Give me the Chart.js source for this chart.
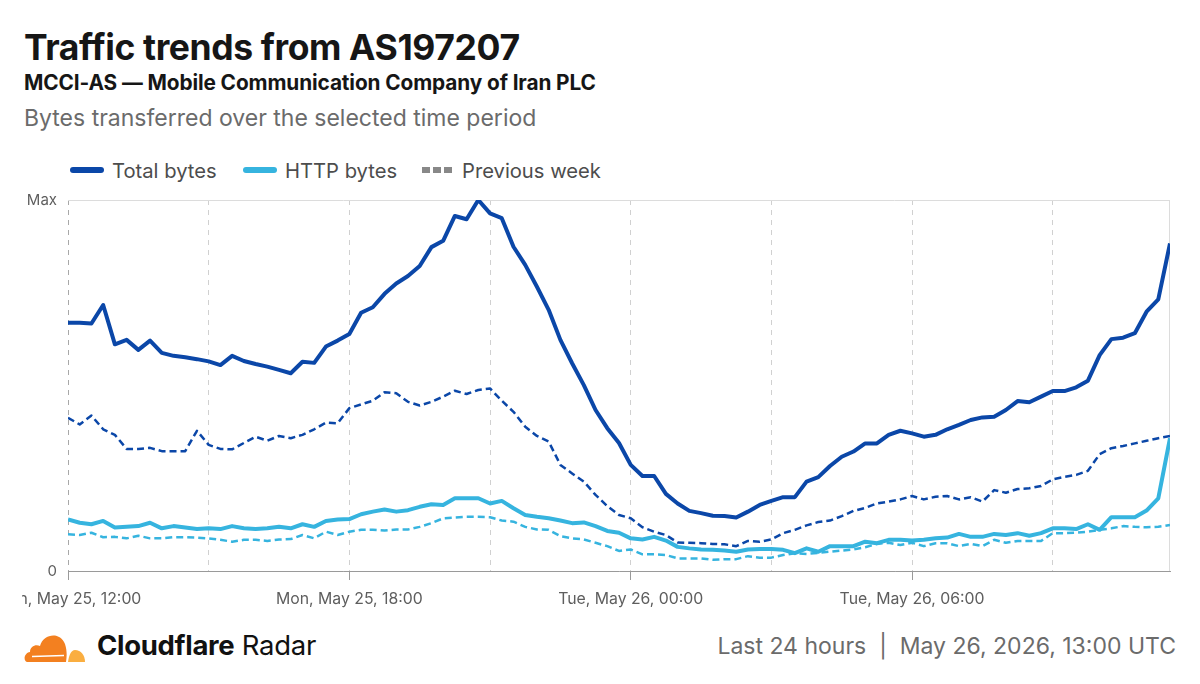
<!DOCTYPE html>
<html>
<head>
<meta charset="utf-8">
<script src="https://cdn.jsdelivr.net/npm/chart.js@4"></script>
<style>
  html, body { margin: 0; padding: 0; background: #fff; }
  body { width: 1200px; height: 684px; position: relative; overflow: hidden; font-family: Inter, "Noto Sans", sans-serif; }
  .title { position: absolute; left: 24px; top: 26px; font-size: 35.5px; font-weight: 700; color: #161616; letter-spacing: -0.4px; }
  .sub { position: absolute; left: 24px; top: 70px; font-size: 20.8px; font-weight: 700; color: #161616; letter-spacing: -0.1px; }
  .desc { position: absolute; left: 24px; top: 104px; font-size: 23px; color: #6b6b6b; }
  .legend { position: absolute; left: 70px; top: 158px; font-size: 20.2px; color: #4d4d4d; }
  .legend span.item { position: absolute; top: 0; white-space: nowrap; }
  .legend i { display: inline-block; width: 34px; height: 6px; border-radius: 3px; vertical-align: middle; margin-right: 8px; position: relative; top: -2px; }
  .legend i.dash { width: 30px; height: 6px; border-radius: 0; margin-right: 10px; background: repeating-linear-gradient(90deg, #888 0 8px, transparent 8px 11px); }
  #wrap { position: absolute; left: 22px; top: 185px; width: 1178px; height: 430px; }
  .brand { position: absolute; left: 24px; top: 628px; height: 36px; }
  .brand svg { position: absolute; left: 0; top: 0; }
  .brand span { position: absolute; left: 73px; top: 0; font-size: 27.5px; color: #111; white-space: nowrap; letter-spacing: -0.3px; }
  .stamp { position: absolute; right: 24px; top: 632px; font-size: 23px; color: #6b6b6b; white-space: nowrap; }
</style>
</head>
<body>
<div class="title">Traffic trends from AS197207</div>
<div class="sub">MCCI-AS — Mobile Communication Company of Iran PLC</div>
<div class="desc">Bytes transferred over the selected time period</div>
<div class="legend">
  <span class="item" style="left:0"><i style="background:#0b47a8"></i>Total bytes</span>
  <span class="item" style="left:173px"><i style="background:#36b4df"></i>HTTP bytes</span>
  <span class="item" style="left:352px"><i class="dash"></i>Previous week</span>
</div>
<div id="wrap"><canvas id="trafficChart"></canvas></div>
<div class="brand">
  <svg width="64" height="36" viewBox="0 0 64 36">
    <path d="M3 34 C-1 33 0 25 6 24 C6 18 12 16 16 18 C19 6 36 3 41 16 C43 22 43 28 42 34 Z" fill="#f38020"/>
    <path d="M44 34 C45 27 47 22 51 22 C57 22 61 27 61 34 Z" fill="#faae40"/>
    <path d="M8 28.5 L40 27.5" stroke="#fff" stroke-width="1.6"/>
  </svg>
  <span><b>Cloudflare</b> Radar</span>
</div>
<div class="stamp">Last 24 hours&nbsp; |&nbsp; May 26, 2026, 13:00 UTC</div>

<script>
document.addEventListener('DOMContentLoaded', () => {
    // time axis: hours since Mon, May 25 12:00 UTC, one point per 15 minutes
    const hours = Array.from({ length: 95 }, (_, i) => i * 0.25);
    const tickLabels = ['Mon, May 25, 12:00', 'Mon, May 25, 18:00', 'Tue, May 26, 00:00', 'Tue, May 26, 06:00'];
    const yLabels = ['0', 'Max'];

    // values as % of max
    const totalBytes = [
        66.9, 66.9, 66.7, 71.7, 61.1, 62.3, 59.6, 62.1, 58.8, 58.0,
        57.6, 57.1, 56.5, 55.5, 58.0, 56.6, 55.8, 55.1, 54.2, 53.3,
        56.4, 56.1, 60.5, 62.1, 63.9, 69.6, 71.1, 74.7, 77.5, 79.5,
        82.2, 87.3, 89.0, 95.7, 94.8, 100, 96.4, 95.1, 87.4, 82.5,
        76.6, 70.4, 62.3, 56.0, 50.1, 43.4, 38.5, 34.5, 28.6, 25.6,
        25.6, 20.8, 18.2, 16.2, 15.6, 14.9, 14.8, 14.4, 16.0, 17.8,
        18.9, 19.9, 19.9, 24.1, 25.3, 28.3, 30.8, 32.2, 34.4, 34.4,
        36.7, 37.8, 37.1, 36.2, 36.7, 38.2, 39.4, 40.7, 41.4, 41.6,
        43.4, 45.8, 45.5, 47.0, 48.5, 48.5, 49.5, 51.3, 58.2, 62.5,
        62.9, 64.1, 69.9, 73.2, 88.3
    ];
    const httpBytes = [
        13.9, 13.0, 12.6, 13.5, 11.7, 11.9, 12.1, 13.0, 11.5, 12.1,
        11.7, 11.3, 11.5, 11.3, 12.1, 11.5, 11.3, 11.5, 11.9, 11.5,
        12.6, 11.9, 13.5, 13.9, 14.0, 15.3, 16.0, 16.6, 16.0, 16.4,
        17.3, 18.0, 17.8, 19.6, 19.6, 19.6, 18.2, 18.9, 16.9, 15.1,
        14.6, 14.2, 13.6, 12.9, 13.1, 12.1, 10.8, 10.3, 8.8, 8.5,
        9.2, 8.2, 6.5, 6.1, 5.8, 5.7, 5.5, 5.2, 5.8, 5.9,
        5.9, 5.7, 4.8, 6.1, 5.2, 6.7, 6.7, 6.7, 7.9, 7.5,
        8.4, 8.4, 8.2, 8.4, 8.8, 9.0, 10.0, 9.2, 9.2, 10.0,
        9.7, 10.2, 9.5, 10.2, 11.5, 11.5, 11.3, 12.6, 11.1, 14.5,
        14.5, 14.5, 16.3, 19.6, 35.8
    ];
    const prevTotalBytes = [
        41.3, 39.5, 41.9, 38.2, 36.7, 32.9, 32.9, 33.2, 32.3, 32.3,
        32.3, 37.8, 34.0, 32.9, 32.8, 34.5, 36.2, 35.1, 36.4, 35.8,
        36.7, 38.2, 40.0, 39.8, 43.9, 44.9, 45.9, 48.2, 47.9, 45.6,
        44.6, 45.6, 47.0, 48.6, 47.7, 48.8, 49.2, 45.9, 42.9, 38.9,
        36.4, 34.9, 28.6, 26.3, 24.1, 20.5, 17.5, 15.1, 14.2, 11.8,
        10.6, 9.7, 7.7, 7.6, 7.5, 7.3, 7.2, 6.7, 8.1, 7.9,
        8.5, 10.2, 11.1, 12.3, 13.2, 13.6, 14.8, 16.2, 17.0, 18.2,
        18.7, 19.3, 20.2, 19.3, 20.0, 20.2, 19.3, 19.9, 18.7, 21.8,
        21.1, 22.1, 22.3, 22.9, 24.7, 25.4, 25.9, 27.0, 31.5, 33.1,
        33.7, 34.4, 35.1, 35.8, 36.4
    ];
    const prevHttpBytes = [
        9.9, 9.7, 10.3, 9.1, 9.2, 8.8, 9.5, 8.8, 8.8, 9.1,
        9.1, 9.0, 8.8, 8.4, 7.9, 8.4, 8.4, 8.1, 8.5, 8.6,
        9.7, 8.8, 10.6, 9.7, 10.6, 11.1, 11.1, 10.9, 11.2, 11.2,
        11.9, 12.9, 14.2, 14.4, 14.6, 14.6, 14.5, 13.6, 13.3, 11.9,
        11.2, 11.1, 9.4, 8.8, 8.5, 7.6, 6.7, 5.4, 5.8, 4.5,
        4.5, 4.3, 3.4, 3.4, 3.4, 3.0, 3.2, 3.2, 4.0, 3.6,
        3.6, 4.3, 4.8, 4.6, 4.9, 5.2, 5.5, 5.8, 6.4, 7.3,
        7.6, 7.0, 7.6, 6.7, 7.5, 7.5, 6.7, 7.3, 6.7, 8.4,
        7.6, 8.1, 8.1, 8.1, 10.2, 10.2, 10.3, 10.6, 11.1, 11.5,
        12.1, 11.9, 11.8, 11.9, 12.4
    ];

    const dark = '#0b47a8';
    const light = '#36b4df';
    const pts = arr => arr.map((v, i) => ({ x: hours[i], y: v }));

    // thin border on the right side of the plot
    const frame = {
        id: 'frame',
        beforeDatasetsDraw(chart) {
            const { ctx, chartArea: a } = chart;
            ctx.save();
            ctx.strokeStyle = '#dcdcdc';
            ctx.lineWidth = 1;
            ctx.beginPath();
            ctx.moveTo(a.right - 0.5, a.top);
            ctx.lineTo(a.right - 0.5, a.bottom);
            ctx.stroke();
            ctx.restore();
        }
    };

    const ctx = document.getElementById('trafficChart').getContext('2d');
    new Chart(ctx, {
        type: 'line',
        data: {
            datasets: [
                { label: 'Total bytes', data: pts(totalBytes), borderColor: dark, borderWidth: 4 },
                { label: 'HTTP bytes', data: pts(httpBytes), borderColor: light, borderWidth: 4 },
                { label: 'Previous week', data: pts(prevTotalBytes), borderColor: dark, borderWidth: 2.5, borderDash: [7, 4] },
                { label: 'Previous week HTTP', data: pts(prevHttpBytes), borderColor: light, borderWidth: 2.5, borderDash: [7, 4] }
            ]
        },
        options: {
            responsive: true,
            maintainAspectRatio: false,
            animation: false,
            layout: { padding: { top: 15, right: 30, left: 0, bottom: 0 } },
            elements: { point: { radius: 0 }, line: { tension: 0, borderJoinStyle: 'round', borderCapStyle: 'butt' } },
            plugins: { legend: { display: false }, tooltip: { enabled: false } },
            scales: {
                x: {
                    type: 'linear',
                    min: 0,
                    max: 23.5,
                    afterBuildTicks: s => { s.ticks = [0, 3, 6, 9, 12, 15, 18, 21].map(v => ({ value: v })); },
                    afterFit: s => { s.height = 44; s.paddingLeft = 0; s.paddingRight = 0; },
                    border: { display: true, color: '#9a9a9a', width: 1, dash: [5, 5] },
                    grid: {
                        color: c => c.index === 0 ? '#a8a8a8' : '#d0d0d0',
                        tickBorderDash: [],
                        tickLength: 9,
                        tickColor: c => (c.tick && c.tick.value % 6 === 0) ? '#9a9a9a' : 'rgba(0,0,0,0)'
                    },
                    ticks: {
                        maxRotation: 0,
                        autoSkip: false,
                        padding: 10,
                        color: '#5e5e5e',
                        font: { family: 'Inter', size: 15.8 },
                        callback: v => v % 6 === 0 ? tickLabels[v / 6] : ''
                    }
                },
                y: {
                    min: 0,
                    max: 100,
                    afterBuildTicks: s => { s.ticks = [0, 100].map(v => ({ value: v })); },
                    afterFit: s => { s.width = 46; s.paddingTop = 0; s.paddingBottom = 0; },
                    border: { display: false },
                    grid: { color: '#dcdcdc', drawTicks: false },
                    ticks: {
                        padding: 11,
                        color: '#5e5e5e',
                        font: { family: 'Inter', size: 15 },
                        callback: v => v === 0 ? yLabels[0] : yLabels[1]
                    }
                }
            }
        },
        plugins: [frame]
    });
});
</script>
</body>
</html>
